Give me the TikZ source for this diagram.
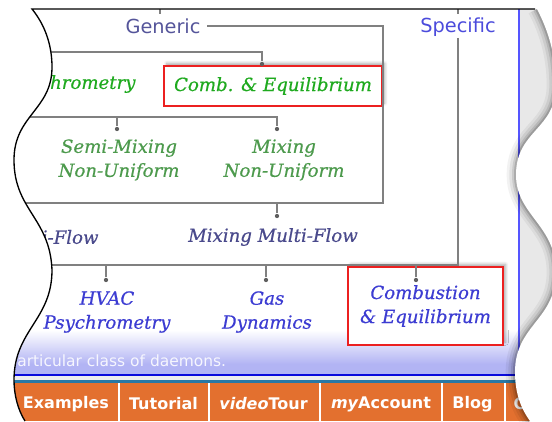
\documentclass[tikz,border=0pt]{standalone}
\usepackage{fontspec}
\setmainfont{DejaVu Sans}
\newfontfamily\labfont{DejaVu Serif}[ItalicFeatures={FakeBold=0.6}]
\usetikzlibrary{shadows.blur}

\definecolor{linegrey}{RGB}{128,128,128}
\definecolor{knobgrey}{RGB}{95,95,95}
\definecolor{boxred}{RGB}{236,32,32}
\definecolor{genblue}{RGB}{85,85,154}
\definecolor{specblue}{RGB}{75,75,220}
\definecolor{combgreen}{RGB}{31,170,31}
\definecolor{mixgreen}{RGB}{77,154,77}
\definecolor{flowblue}{RGB}{74,74,140}
\definecolor{appblue}{RGB}{60,60,210}
\definecolor{lavband}{RGB}{178,180,244}
\definecolor{pagegrey}{RGB}{232,232,232}
\definecolor{edgeblue}{RGB}{85,85,255}
\definecolor{rulenavy}{RGB}{10,10,220}
\definecolor{ruleteal}{RGB}{40,120,165}
\definecolor{taborange}{RGB}{227,112,47}

\tikzset{every picture/.style={line width=0.75pt}}
\tikzset{
  tree/.style={draw=linegrey, line width=0.9pt},
  knob/.style={circle, fill=knobgrey, inner sep=0pt, minimum size=3.2pt},
  lab/.style={inner sep=0.75pt, align=center, font=\labfont\itshape\fontsize{13.6}{18}\selectfont},
  head/.style={inner sep=0.75pt, font=\fontsize{14.5}{17}\selectfont},
  redbox/.style={draw=boxred, line width=1.5pt, fill=white,
    blur shadow={shadow xshift=2pt, shadow yshift=2pt, shadow blur steps=6, shadow opacity=35}},
  tabtext/.style={inner sep=0.75pt, text=white, font=\bfseries\fontsize{12}{14}\selectfont},
}

\begin{document}
\begin{tikzpicture}[x=0.75pt,y=0.75pt,yscale=-1,xscale=1]
\useasboundingbox (0,0) rectangle (552,421);

%Shape: Rectangle (grey outside the page)
\fill[pagegrey] (519,9) rectangle (552,375);
%Shape: Rectangle (lavender band)
\shade[top color=white, bottom color=lavband] (14,330) rectangle (519,364);
\fill[lavband] (14,363.5) rectangle (519,375);
% Text Node
\node[inner sep=0.75pt, anchor=base west, text=white!88!lavband, font=\fontsize{11.6}{14}\selectfont] (tagline) at (6,366) {particular class of daemons.};

%Straight Lines
\draw[edgeblue, line width=1.1pt] (519,9) -- (519,375);
\draw[rulenavy, line width=0.9pt] (14,375) -- (519,375);
\fill[pagegrey!80!white] (14,376) rectangle (552,380.5);
\draw[ruleteal, line width=1.6pt] (14,381.5) -- (552,381.5);
%Shape: Rectangle (menu bar)
\fill[taborange] (14,383) rectangle (552,421);
\foreach \sx in {119,208.5,319.5,441.5,504.5}
  \draw[white, line width=1.5pt] (\sx,383) -- (\sx,421);

% Text Node
\node[tabtext] (examples) at (66,404) {Examples};
% Text Node
\node[tabtext] (tutorial) at (163.5,404) {Tutorial};
% Text Node
\node[tabtext] (videotour) at (263.5,404) {\itshape video\upshape Tour};
% Text Node
\node[tabtext] (myaccount) at (381,404) {\itshape my\upshape Account};
% Text Node
\node[tabtext] (blog) at (472.5,404) {Blog};
% Text Node
\node[tabtext, anchor=west] (more) at (512,404) {C};

% Text Node
\node[head, text=genblue] (generic) at (163,26) {Generic};
% Text Node
\node[head, text=specblue] (specific) at (458,27) {Specific};

%Shape: Rectangle
\node[lab, redbox, text=combgreen, minimum width=163.5pt, minimum height=30pt] (comb) at (273,86) {Comb. \& Equilibrium};
% Text Node
\node[lab, text=combgreen, anchor=east] (psych) at (137,84) {Psychrometry};
% Text Node
\node[lab, text=mixgreen] (semi) at (119,160) {Semi-Mixing\\Non-Uniform};
% Text Node
\node[lab, text=mixgreen] (mixnu) at (284,160) {Mixing\\Non-Uniform};
% Text Node
\node[lab, text=flowblue] (mmf) at (273,237) {Mixing Multi-Flow};
% Text Node
\node[lab, text=flowblue, anchor=east] (multi) at (100,237) {Multi-Flow};
% Text Node
\node[lab, text=appblue] (hvac) at (107,312) {HVAC\\Psychrometry};
% Text Node
\node[lab, text=appblue] (gas) at (267,312) {Gas\\Dynamics};
%Shape: Rectangle
\node[lab, redbox, text=appblue, minimum width=116pt, minimum height=58.5pt] (combust) at (425.5,306) {Combustion\\\& Equilibrium};

% Connection points
\coordinate (gturn) at (383,26);
\coordinate (gfoot) at (383,203);
\coordinate (gleft) at (20,203);
\coordinate (rowtwo) at (20,52);
\coordinate (rowthree) at (20,117);
\coordinate (sturn) at (458,265);
\coordinate (sleft) at (20,265);
\node[knob] (kcomb) at (262,64) {};
\node[knob] (ksemi) at (117,129) {};
\node[knob] (kmix) at (277,129) {};
\node[knob] (kmmf) at (277,216) {};
\node[knob] (khvac) at (106,280) {};
\node[knob] (kgas) at (266,280) {};
\node[knob] (kcombust) at (416,280) {};

% Connection
\draw[tree] ([xshift=4pt]generic.east) -- (gturn) -- (gfoot) -- (gleft);
\draw[tree] (rowtwo) -| (kcomb);
\draw[tree] (rowthree) -| (kmix);
\draw[tree] (ksemi) -- (ksemi |- rowthree);
\draw[tree] (kmmf) -- (kmmf |- gfoot);
\draw[tree] (specific.south) -- (sturn) -- (sleft);
\draw[tree] (khvac) -- (khvac |- sturn);
\draw[tree] (kgas) -- (kgas |- sturn);
\draw[tree] (kcombust) -- (kcombust |- sturn);
\draw[tree] (160,9) -- (160,14);
\draw[tree] (458,9) -- (458,14);

%Shape: torn right edge with shadow
\foreach \w/\o in {14/0.05,10/0.07,6/0.1,3/0.15}
  \draw[black, opacity=\o, line width=\w] (537,9) .. controls (548,30) and (556,55) .. (556,85) .. controls (556,130) and (516,130) .. (516,175) .. controls (516,215) and (556,225) .. (556,272) .. controls (556,320) and (515,325) .. (515,372) .. controls (515,395) and (522,410) .. (530,421);
\fill[white] (537,9) .. controls (548,30) and (556,55) .. (556,85) .. controls (556,130) and (516,130) .. (516,175) .. controls (516,215) and (556,225) .. (556,272) .. controls (556,320) and (515,325) .. (515,372) .. controls (515,395) and (522,410) .. (530,421) -- (560,421) -- (560,0) -- cycle;

%Shape: torn left edge
\fill[white] (0,0) -- (560,0) -- (560,9) -- (32,9) .. controls (45,25) and (52,45) .. (52,67) .. controls (52,110) and (14,115) .. (14,160) .. controls (14,210) and (50,218) .. (52,270) .. controls (52,320) and (14,330) .. (14,380) .. controls (14,395) and (18,410) .. (25,421) -- (0,421) -- cycle;
\draw[black, line width=1pt] (535,9) -- (32,9) .. controls (45,25) and (52,45) .. (52,67) .. controls (52,110) and (14,115) .. (14,160) .. controls (14,210) and (50,218) .. (52,270) .. controls (52,320) and (14,330) .. (14,380) .. controls (14,395) and (18,410) .. (25,421);

\end{tikzpicture}
\end{document}
